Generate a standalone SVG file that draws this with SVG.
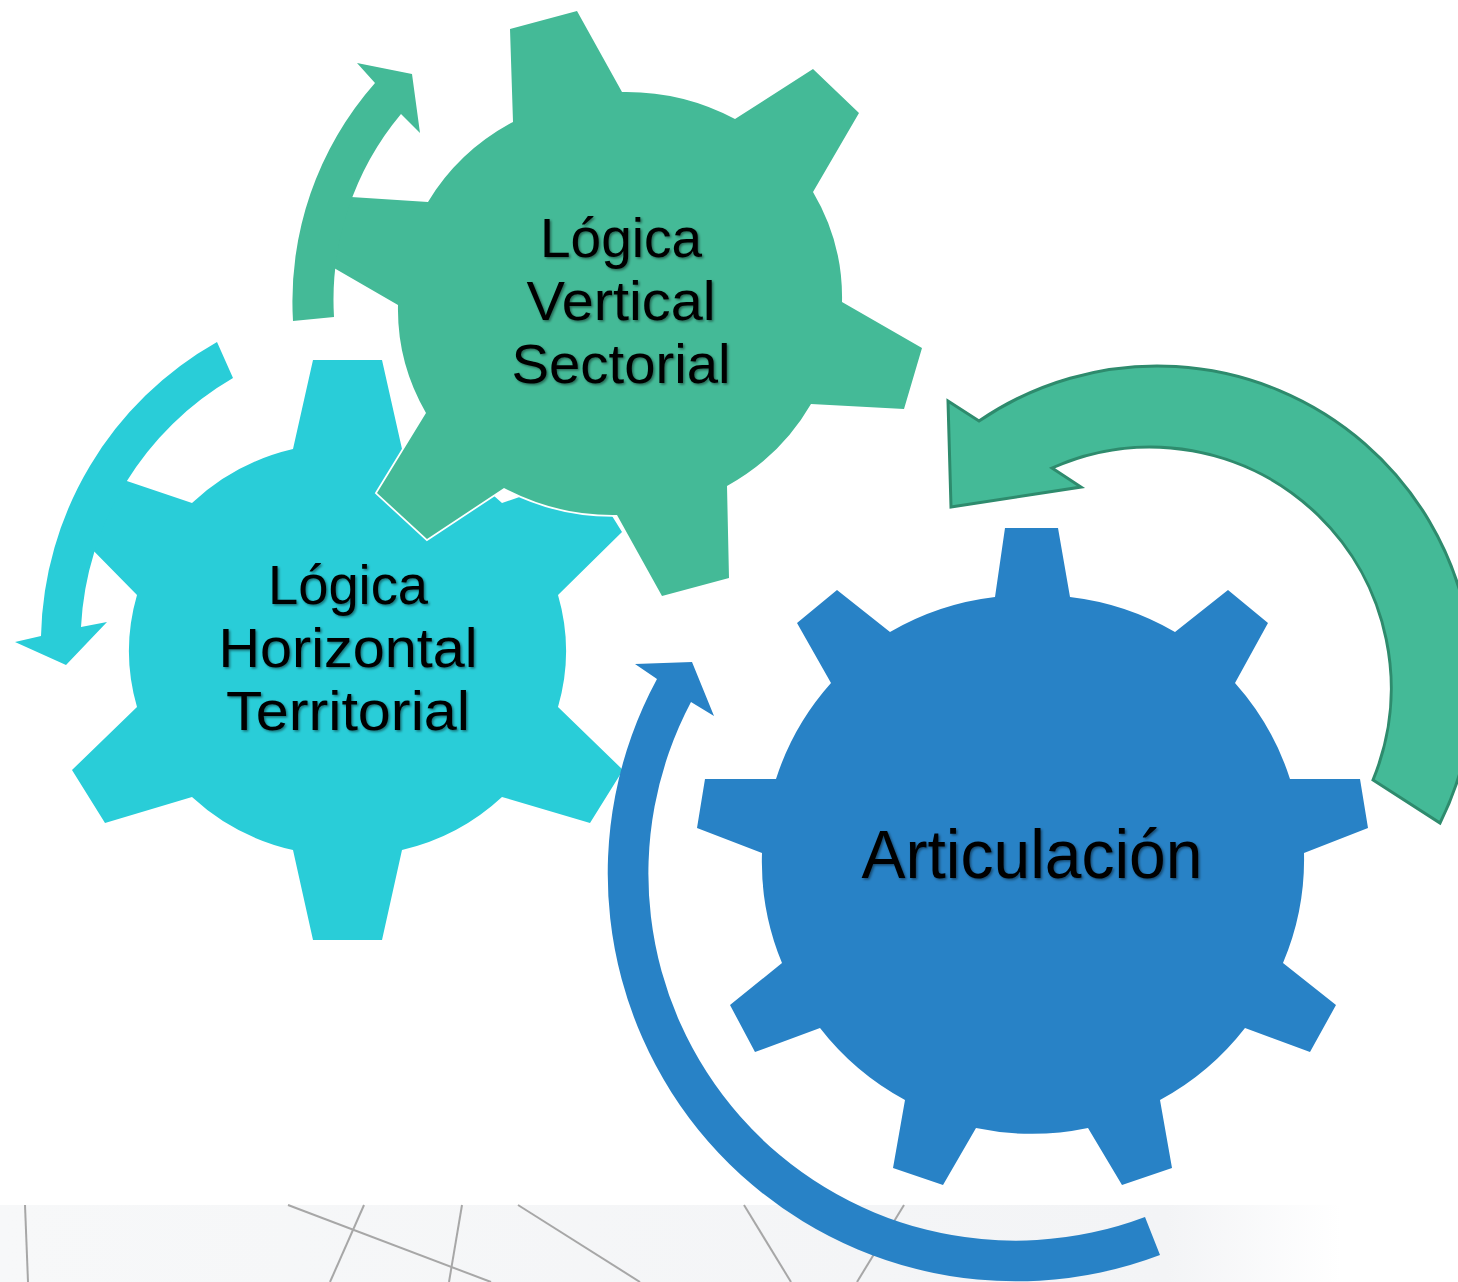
<svg xmlns="http://www.w3.org/2000/svg" width="1458" height="1282" viewBox="0 0 1458 1282">
<defs>
<style>
.lbl{font-family:"Liberation Sans","Arial",sans-serif;font-size:56px;fill:#000;text-anchor:middle;filter:url(#sh)}
.big{font-size:68px}
.bgline{stroke:#a7a7a7;stroke-width:2;fill:none}
.gear{stroke:#fff;stroke-width:3.5;paint-order:stroke;stroke-linejoin:miter}
</style>
<filter id="sh" x="-10%" y="-20%" width="130%" height="150%">
<feDropShadow dx="1.5" dy="1.5" stdDeviation="1" flood-color="#000" flood-opacity="0.45"/>
</filter>
<linearGradient id="band" x1="0" y1="0" x2="1" y2="0">
<stop offset="0" stop-color="#f7f8f9"/>
<stop offset="0.8" stop-color="#f3f4f6"/>
<stop offset="0.92" stop-color="#ffffff"/>
</linearGradient>
</defs>
<rect width="1458" height="1282" fill="#fff"/>
<g id="background">
<rect x="0" y="1205" width="1458" height="77" fill="url(#band)"/>
<line class="bgline" x1="25" y1="1205" x2="28" y2="1282"/>
<line class="bgline" x1="288" y1="1205" x2="491" y2="1282"/>
<line class="bgline" x1="364" y1="1205" x2="330" y2="1282"/>
<line class="bgline" x1="462" y1="1205" x2="449" y2="1282"/>
<line class="bgline" x1="518" y1="1205" x2="640" y2="1282"/>
<line class="bgline" x1="744" y1="1205" x2="791" y2="1282"/>
<line class="bgline" x1="904" y1="1205" x2="857" y2="1282"/>
</g>
<g id="gear-horizontal">
<path class="gear" fill="#29CDD8" d="M293,449 L313,360 L382,360 L402,449 A218,209 0 0 1 502,503 L586,474 L622,532 L558,595 A218,209 0 0 1 558,707 L623,770 L590,823 L502,797 A218,209 0 0 1 402,850 L382,940 L313,940 L293,850 A218,209 0 0 1 192,797 L105,823 L72,770 L137,707 A218,209 0 0 1 137,595 L80,537 L112,476 L192,503 A218,209 0 0 1 293,449 Z"/>
</g>
<g id="gear-vertical">
<path class="gear" fill="#44BA97" d="M513,122 L510,29 L577,11 L622,92 A224,214 0 0 1 735,119 L813,69 L859,113 L813,192 A224,214 0 0 1 842,302 L922,348 L904,409 L811,404 A224,214 0 0 1 727,486 L729,578 L662,596 L617,515 A224,214 0 0 1 504,488 L427,539 L377,493 L426,413 A224,214 0 0 1 398,305 L334,268 L324,262 L339,196 L351,197 L428,202 A224,214 0 0 1 513,122 Z"/>
</g>
<g id="gear-articulacion">
<path class="gear" fill="#2882C6" d="M995,597 L1005,528 L1058,528 L1070,597 A270,267 0 0 1 1175,632 L1228,590 L1268,623 L1235,683 A270,267 0 0 1 1290,779 L1360,779 L1368,828 L1304,853 A270,267 0 0 1 1283,963 L1336,1005 L1310,1052 L1245,1028 A270,267 0 0 1 1160,1100 L1172,1168 L1122,1185 L1088,1128 A270,267 0 0 1 976,1128 L943,1185 L893,1168 L905,1100 A270,267 0 0 1 820,1028 L755,1052 L730,1005 L782,963 A270,267 0 0 1 762,853 L697,828 L705,779 L776,779 A270,267 0 0 1 831,683 L797,623 L837,590 L890,632 A270,267 0 0 1 995,597 Z"/>
</g>
<g id="connectors">
<path fill="#44BA97" d="M293,321 A330,330 0 0 1 375,83 L357,63 L412,74 L420,133 L401,114 A290,290 0 0 0 334,317 Z"/>
<path fill="#29CDD8" d="M217,342 A346,346 0 0 0 41,636 L15,642 L66,665 L107,622 L81,627 A306,306 0 0 1 233,378 Z"/>
<path fill="#2882C6" d="M1160,1255 A408,408 0 0 1 657,679 L635,664 L692,662 L714,716 L691,702 A367,367 0 0 0 1145,1217 Z"/>
<path fill="#44BA97" stroke="#2E8B6D" stroke-width="3" stroke-linejoin="miter" d="M1440,823 A316,316 0 0 0 979,421 L948,401 L951,507 L1081,487 L1052,468 A241,241 0 0 1 1373,780 Z"/>
</g>
<g id="label-vertical">
<text class="lbl" x="621" y="257" textLength="162" lengthAdjust="spacingAndGlyphs">Lógica</text>
<text class="lbl" x="621" y="320" textLength="189" lengthAdjust="spacingAndGlyphs">Vertical</text>
<text class="lbl" x="621" y="383" textLength="219" lengthAdjust="spacingAndGlyphs">Sectorial</text>
</g>
<g id="label-horizontal">
<text class="lbl" x="348" y="604" textLength="160" lengthAdjust="spacingAndGlyphs">Lógica</text>
<text class="lbl" x="348" y="667" textLength="259" lengthAdjust="spacingAndGlyphs">Horizontal</text>
<text class="lbl" x="348" y="730" textLength="244" lengthAdjust="spacingAndGlyphs">Territorial</text>
</g>
<g id="label-articulacion">
<text class="lbl big" x="1032" y="878" textLength="341" lengthAdjust="spacingAndGlyphs">Articulación</text>
</g>
</svg>
